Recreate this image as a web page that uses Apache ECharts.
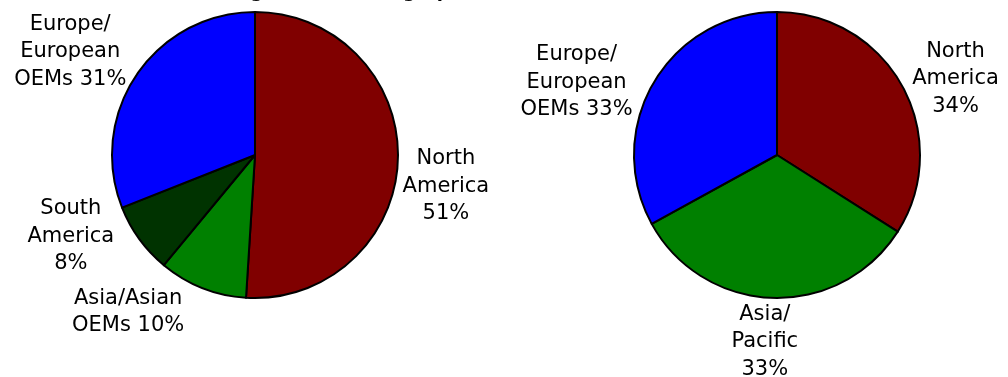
<!DOCTYPE html>
<html>
<head>
<meta charset="utf-8">
<script src="https://cdn.jsdelivr.net/npm/echarts@6/dist/echarts.min.js"></script>
<style>
html, body { margin: 0; padding: 0; background: #fff; }
#main { width: 1008px; height: 377px; }
</style>
</head>
<body>
<div id="main"></div>
<script>
// (a) left pie
var regionsA = ['North\nAmerica', 'Asia/Asian\nOEMs', 'South\nAmerica', 'Europe/\nEuropean\nOEMs'];
var sharesA = [51, 10, 8, 31];
// (b) right pie
var regionsB = ['North\nAmerica', 'Asia/\nPacific', 'Europe/\nEuropean\nOEMs'];
var sharesB = [34, 33, 33];

var colorsA = ['#800000', '#008000', '#003300', '#0000ff'];
var colorsB = ['#800000', '#008000', '#0000ff'];

// small nudges of each label from where echarts puts it
var nudgeA = [[-7, 25], [-54, -27], [-24, -35], [-21, 8]];
var nudgeB = [[5, 19], [-6, -11], [-30, 28]];

var FONT = 'DejaVu Sans';

function toData(names, values, colors){
	var out = [];
	for(var i = 0; i < names.length; i ++){
		out.push({ name : names[i], value : values[i], itemStyle : { color : colors[i] } });
	}
	return out;
}

// centre the label lines and move it by its nudge
function centred(nudge){
	return function(p){
		var r = p.labelRect;
		var ax = p.align == 'right' ? r.x + r.width : (p.align == 'center' ? r.x + r.width / 2 : r.x);
		var ay = r.y + r.height / 2;
		var n = nudge[p.dataIndex] || [0, 0];
		return { x : ax + n[0], y : ay + n[1], align : 'center', verticalAlign : 'middle' };
	};
}

function pieSeries(names, values, colors, nudge, centre){
	return {
		type : 'pie',
		center : centre,
		radius : 143,
		startAngle : 90,
		clockwise : true,
		avoidLabelOverlap : false,
		animation : false,
		silent : true,
		data : toData(names, values, colors),
		itemStyle : { borderColor : '#000', borderWidth : 2 },
		label : {
			show : true,
			position : 'outside',
			distanceToLabelLine : 0,
			fontFamily : FONT,
			fontSize : 21,
			lineHeight : 27.5,
			color : '#000',
			formatter : function(p){
				var sep = /OEMs$/.test(p.name) ? ' ' : '\n';
				return p.name + sep + p.value + '%';
			}
		},
		labelLine : { show : false, length : 55, length2 : 0 },
		labelLayout : centred(nudge)
	};
}

var chart = echarts.init(document.getElementById('main'));
var option = {
	backgroundColor : '#fff',
	graphic : [
		{ type : 'text', left : 113, top : -17, style : { text : '(a) Market Segment', font : 'bold 18px "DejaVu Sans"', fill : '#000' } },
		{ type : 'text', left : 328, top : -17, style : { text : '(b) Geographic', font : 'bold 18px "DejaVu Sans"', fill : '#000' } }
	],
	series : [
		pieSeries(regionsA, sharesA, colorsA, nudgeA, [255, 155]),
		pieSeries(regionsB, sharesB, colorsB, nudgeB, [777, 155])
	]
};
chart.setOption(option);
</script>
</body>
</html>
